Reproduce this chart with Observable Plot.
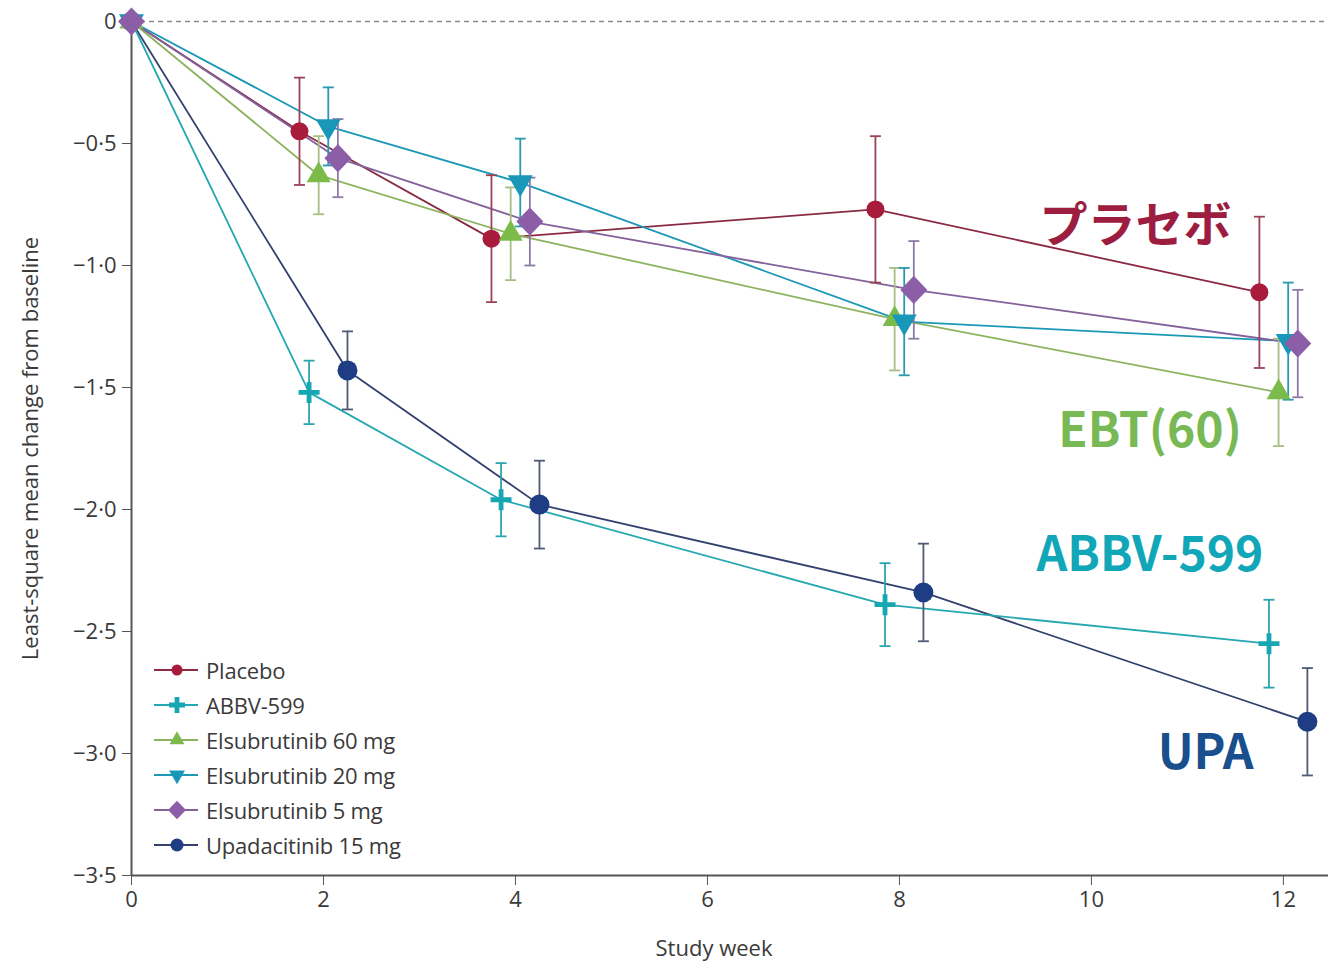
<!DOCTYPE html>
<html>
<head>
<meta charset="utf-8">
<script src="https://cdn.jsdelivr.net/npm/d3@7"></script>
<script src="https://cdn.jsdelivr.net/npm/@observablehq/plot@0.6"></script>
<style>
  html, body { margin: 0; padding: 0; background: #fff; }
  #wrap { position: relative; width: 1332px; height: 964px; font-family: "Open Sans", sans-serif; }
  #legend { position: absolute; left: 152px; top: 652px; color: #3a3a3a; font-size: 22px; letter-spacing: -0.2px; }
  #legend .row { display: flex; align-items: center; height: 35px; }
  #legend svg { width: 50px; height: 24px; margin-right: 4px; }
</style>
</head>
<body>
<div id="wrap"><div id="legend"></div></div>
<script>
// Study weeks at which the endpoint was assessed
const weeks = [0, 2, 4, 8, 12];

// Series (legend order)
const seriesNames = ["Placebo", "ABBV-599", "Elsubrutinib 60 mg", "Elsubrutinib 20 mg", "Elsubrutinib 5 mg", "Upadacitinib 15 mg"];

// Least-square mean change from baseline, per series
const placebo = [0, -0.45, -0.89, -0.77, -1.11];
const abbv599 = [0, -1.52, -1.96, -2.39, -2.55];
const elsu60 = [0, -0.63, -0.87, -1.22, -1.52];
const elsu20 = [0, -0.43, -0.66, -1.23, -1.31];
const elsu5 = [0, -0.56, -0.82, -1.10, -1.32];
const upa15 = [0, -1.43, -1.98, -2.34, -2.87];

// Half-width of the error bars, per series
const placeboErr = [0, 0.22, 0.26, 0.30, 0.31];
const abbv599Err = [0, 0.13, 0.15, 0.17, 0.18];
const elsu60Err = [0, 0.16, 0.19, 0.21, 0.22];
const elsu20Err = [0, 0.16, 0.18, 0.22, 0.24];
const elsu5Err = [0, 0.16, 0.18, 0.20, 0.22];
const upa15Err = [0, 0.16, 0.18, 0.20, 0.22];

// Axis ticks
const yTicks = [0, -0.5, -1.0, -1.5, -2.0, -2.5, -3.0, -3.5];
const xTicks = [0, 2, 4, 6, 8, 10, 12];

// Callout labels on the right
const calloutText = ["プラセボ", "EBT(60)", "ABBV-599", "UPA"];

// ---- presentation -------------------------------------------------------
const values = [placebo, abbv599, elsu60, elsu20, elsu5, upa15];
const errors = [placeboErr, abbv599Err, elsu60Err, elsu20Err, elsu5Err, upa15Err];

// horizontal dodge (in weeks) so the error bars do not overlap
const dodge = [-0.25, -0.15, -0.05, 0.05, 0.15, 0.25];
const markerColor = ["#a81b3b", "#16a7b3", "#7cbb4a", "#1997b8", "#8c5ea8", "#1e3d85"];
const lineColor = ["#8a2a43", "#26a8b1", "#8db35f", "#1b98b5", "#83619c", "#33416e"];
const barColor = ["#9b4257", "#2aa5ae", "#a5bd84", "#2a98b0", "#8e7aa6", "#505a75"];
const markerSize = [9, 10.5, 12, 12.5, 13.5, 10];
const calloutColor = ["#9c1d3f", "#78b955", "#12a6b9", "#1a4f8d"];
const calloutPos = [[10.46, -0.84], [10.61, -1.68], [10.61, -2.19], [11.19, -3.0]];

// custom marker shapes (r = half-width in px)
const rad = (size) => Math.sqrt(size / Math.PI);
const symPlus = { draw(c, size) { const r = rad(size), t = 2.4;
  c.moveTo(-r, -t); c.lineTo(-t, -t); c.lineTo(-t, -r); c.lineTo(t, -r); c.lineTo(t, -t); c.lineTo(r, -t);
  c.lineTo(r, t); c.lineTo(t, t); c.lineTo(t, r); c.lineTo(-t, r); c.lineTo(-t, t); c.lineTo(-r, t); c.closePath(); } };
const symTriUp = { draw(c, size) { const r = rad(size), h = r * Math.sqrt(3);
  c.moveTo(0, -2 * h / 3); c.lineTo(r, h / 3); c.lineTo(-r, h / 3); c.closePath(); } };
const symTriDown = { draw(c, size) { const r = rad(size), h = r * Math.sqrt(3);
  c.moveTo(0, 2 * h / 3); c.lineTo(r, -h / 3); c.lineTo(-r, -h / 3); c.closePath(); } };
const symDiamond = { draw(c, size) { const r = rad(size);
  c.moveTo(0, -r * 1.04); c.lineTo(r, 0); c.lineTo(0, r * 1.04); c.lineTo(-r, 0); c.closePath(); } };
const symCircle = { draw(c, size) { const r = rad(size); c.moveTo(r, 0); c.arc(0, 0, r, 0, 2 * Math.PI); } };
const symCap = { draw(c, size) { const r = rad(size); c.moveTo(-r, 0); c.lineTo(r, 0); } };
const symbols = [symCircle, symPlus, symTriUp, symTriDown, symDiamond, symCircle];

// long-format table
const rows = [];
seriesNames.forEach((name, s) => {
  weeks.forEach((w, i) => {
    rows.push({
      s, series: name, week: w,
      xd: w === 0 ? 0 : w + dodge[s],
      value: values[s][i],
      lo: values[s][i] - errors[s][i],
      hi: values[s][i] + errors[s][i],
      err: errors[s][i]
    });
  });
});
const bySeries = (s) => rows.filter((d) => d.s === s);
const withBars = (s) => rows.filter((d) => d.s === s && d.err > 0);
const drawOrder = [5, 0, 1, 2, 3, 4];

const fmt = (d) => d === 0 ? "0" : "\u2212" + Math.abs(d).toFixed(1).replace(".", "\u00b7");

const marks = [
  // baseline reference
  Plot.ruleY([0], { stroke: "#8a8a8a", strokeWidth: 1.3, strokeDasharray: "5,4" }),
  // axis lines
  Plot.ruleX([0], { y1: -3.5, y2: 0, stroke: "#555", strokeWidth: 2 }),
  Plot.ruleY([-3.5], { stroke: "#555", strokeWidth: 2 }),
  Plot.axisX({ ticks: xTicks, tickSize: 10, tickPadding: 6, fontSize: 22, stroke: "#555", fill: "#3a3a3a", label: null }),
  Plot.axisY({ ticks: yTicks, tickFormat: fmt, tickSize: 9, tickPadding: 6, fontSize: 22, stroke: "#555", fill: "#3a3a3a", label: null }),
  Plot.text(["Study week"], { frameAnchor: "bottom", dx: -16, dy: 73, fontSize: 22, fill: "#3a3a3a", lineAnchor: "middle", textAnchor: "middle" }),
  Plot.text(["Least-square mean change from baseline"], { frameAnchor: "left", dx: -101, rotate: -90, fontSize: 22, fill: "#3a3a3a", textAnchor: "middle", lineAnchor: "middle" })
];

// connecting lines
drawOrder.forEach((s) => marks.push(
  Plot.line(bySeries(s), { x: "xd", y: "value", stroke: lineColor[s], strokeWidth: 1.8 })
));
// error bars with caps
drawOrder.forEach((s) => {
  marks.push(Plot.ruleX(withBars(s), { x: "xd", y1: "lo", y2: "hi", stroke: barColor[s], strokeWidth: 1.8 }));
  marks.push(Plot.dot(withBars(s), { x: "xd", y: "lo", symbol: symCap, r: 5.5, stroke: barColor[s], strokeWidth: 1.8, fill: "none" }));
  marks.push(Plot.dot(withBars(s), { x: "xd", y: "hi", symbol: symCap, r: 5.5, stroke: barColor[s], strokeWidth: 1.8, fill: "none" }));
});
// markers
drawOrder.forEach((s) => marks.push(
  Plot.dot(bySeries(s), { x: "xd", y: "value", symbol: symbols[s], r: markerSize[s], fill: markerColor[s], stroke: "none" })
));
// callouts
const callouts = calloutText.map((t, i) => ({ t, x: calloutPos[i][0], y: calloutPos[i][1], c: calloutColor[i] }));
marks.push(Plot.text(callouts, {
  x: "x", y: "y", text: "t", fill: (d) => d.c, fontSize: 48, fontWeight: "bold",
  fontFamily: "'Noto Sans CJK JP', 'Noto Sans', sans-serif", textAnchor: "middle", lineAnchor: "middle"
}));

const chart = Plot.plot({
  width: 1332,
  height: 964,
  marginLeft: 131,
  marginRight: 4,
  marginTop: 21,
  marginBottom: 89,
  x: { domain: [0, 12.47] },
  y: { domain: [-3.5, 0] },
  style: { fontFamily: "'Open Sans', sans-serif", background: "#fff", overflow: "visible" },
  marks
});
const wrap = document.getElementById("wrap");
wrap.insertBefore(chart, wrap.firstChild);

// legend
const legend = document.getElementById("legend");
const legendSize = [5.5, 8, 7.5, 8, 9, 6.5];
seriesNames.forEach((name, s) => {
  const row = document.createElement("div");
  row.className = "row";
  const ns = "http://www.w3.org/2000/svg";
  const svg = document.createElementNS(ns, "svg");
  const line = document.createElementNS(ns, "line");
  line.setAttribute("x1", 2); line.setAttribute("x2", 46);
  line.setAttribute("y1", 12); line.setAttribute("y2", 12);
  line.setAttribute("stroke", lineColor[s]); line.setAttribute("stroke-width", 2);
  svg.appendChild(line);
  const p = d3.path();
  const r = legendSize[s];
  symbols[s].draw(p, r * r * Math.PI);
  const path = document.createElementNS(ns, "path");
  path.setAttribute("d", p.toString());
  path.setAttribute("transform", "translate(25,12)");
  path.setAttribute("fill", markerColor[s]);
  svg.appendChild(path);
  row.appendChild(svg);
  const span = document.createElement("span");
  span.textContent = name;
  row.appendChild(span);
  legend.appendChild(row);
});
</script>
</body>
</html>
